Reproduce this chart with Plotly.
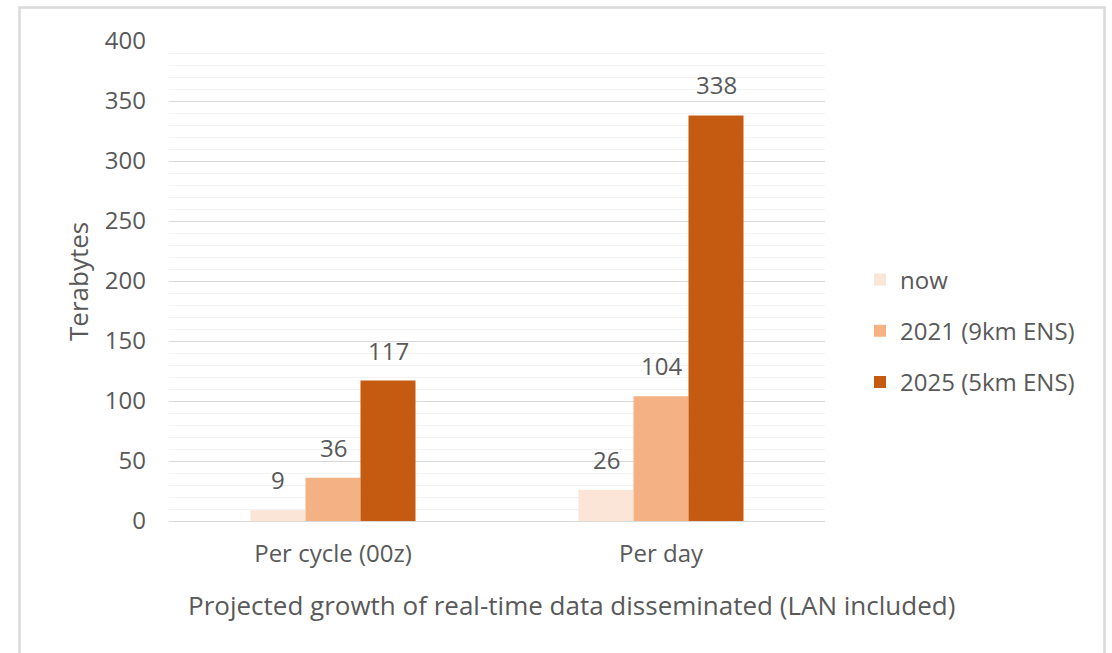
import plotly.graph_objects as go

# Data
categories = ["Per cycle (00z)", "Per day"]
series_names = ["now", "2021 (9km ENS)", "2025 (5km ENS)"]
now_vals = [9, 26]
ens9_vals = [36, 104]
ens5_vals = [117, 338]
y_ticks = [0, 50, 100, 150, 200, 250, 300, 350, 400]

colors = ["#FBE5D6", "#F4B183", "#C55A11"]
text_gray = "#595959"
FONT = "Open Sans"
FS = 24        # ticks, legend, value labels
FS_TITLE = 26  # axis titles

W, H = 1112, 653
L, R, T, B = 169, 825, 41, 521  # plot area in pixels


def px_x(x):
    return (x - L) / (R - L)


def px_y(y):
    return (B - y) / (B - T)


all_vals = [now_vals, ens9_vals, ens5_vals]
bar_px = 55  # width of one bar in the group, in pixels
fig = go.Figure()
for name, vals, col in zip(series_names, all_vals, colors):
    fig.add_trace(go.Bar(
        x=categories, y=vals, name=name, legendgroup=name,
        marker=dict(color=col, line=dict(width=0)),
    ))

# value labels sitting above each bar
annotations = []
for i, vals in enumerate(all_vals):
    for cat, v in zip(categories, vals):
        annotations.append(dict(
            x=cat, y=v, xref="x", yref="y", text=str(v), showarrow=False,
            xshift=(i - 1) * bar_px, yshift=12, yanchor="bottom",
            font=dict(family=FONT, size=FS, color=text_gray),
        ))

annotations += [
    dict(text="Terabytes", xref="paper", yref="paper",
         x=px_x(78), y=px_y(281), showarrow=False, textangle=-90,
         font=dict(family=FONT, size=FS_TITLE, color=text_gray),
         xanchor="center", yanchor="middle"),
    dict(text="Projected growth of real-time data disseminated (LAN included)",
         xref="paper", yref="paper", x=px_x(571), y=px_y(605),
         showarrow=False, font=dict(family=FONT, size=FS_TITLE, color=text_gray),
         xanchor="center", yanchor="middle"),
]

fig.update_layout(
    width=W, height=H,
    margin=dict(l=L, r=W - R, t=T, b=H - B, autoexpand=False),
    paper_bgcolor="white", plot_bgcolor="white",
    barmode="group", bargap=0.497, bargroupgap=0,
    font=dict(family=FONT, size=FS, color=text_gray),
    showlegend=True,
    legend=dict(
        x=px_x(860), y=px_y(331), xanchor="left", yanchor="middle",
        font=dict(family=FONT, size=FS, color=text_gray),
        tracegroupgap=17, itemwidth=30, bgcolor="rgba(0,0,0,0)",
    ),
    xaxis=dict(
        showgrid=False, showline=False, ticks="",
        tickfont=dict(family=FONT, size=FS, color=text_gray),
        ticklabelstandoff=16,
    ),
    yaxis=dict(
        range=[0, 400], tickvals=y_ticks, showline=False, ticks="",
        gridcolor="#D9D9D9", gridwidth=1,
        zeroline=True, zerolinecolor="#D9D9D9", zerolinewidth=1,
        minor=dict(dtick=10, showgrid=True, gridcolor="#F2F2F2", gridwidth=1),
        tickfont=dict(family=FONT, size=FS, color=text_gray),
        ticklabelstandoff=22,
    ),
    shapes=[dict(
        type="rect", xref="paper", yref="paper",
        x0=px_x(19.5), x1=px_x(1104.5), y0=px_y(7.5), y1=px_y(680),
        line=dict(color="#D9D9D9", width=2.5), fillcolor="rgba(0,0,0,0)",
        layer="below",
    )],
    annotations=annotations,
)

fig.write_html("out.html")
